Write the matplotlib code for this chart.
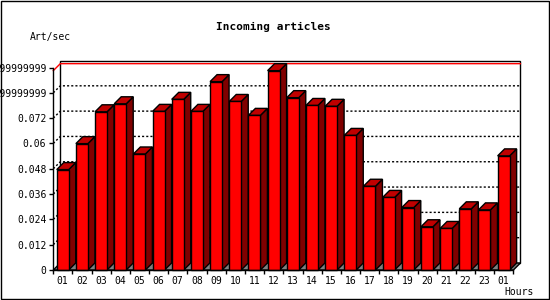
import matplotlib
matplotlib.use("Agg")
import matplotlib.pyplot as plt
from matplotlib.patches import Rectangle, Polygon
from matplotlib.lines import Line2D

plt.rcParams['font.family'] = ['DejaVu Sans Mono']
plt.rcParams['lines.scale_dashes'] = False

# data: articles per second, hourly
hours = ['01', '02', '03', '04', '05', '06', '07', '08', '09', '10', '11', '12',
         '13', '14', '15', '16', '17', '18', '19', '20', '21', '22', '23', '01']
rates = [0.0476, 0.0599, 0.0750, 0.0788, 0.0550, 0.0752, 0.0809, 0.0752,
         0.0893, 0.0799, 0.0733, 0.0945, 0.0817, 0.0780, 0.0776, 0.0638,
         0.0397, 0.0344, 0.0296, 0.0205, 0.0197, 0.0290, 0.0285, 0.0541]
yticks = [0, 0.012, 0.024, 0.036, 0.048, 0.06, 0.072, 0.084, 0.096]
ytick_labels = ['0', '0.012', '0.024', '0.036', '0.048', '0.06', '0.072',
                '0.08399999999', '0.09599999999']

W, H = 550, 300
fig = plt.figure(figsize=(5.5, 3), dpi=100)
ax_left, ax_right, ax_bottom, ax_top = 53.3, 513.4, 270, 67.5
ax = fig.add_axes([ax_left / W, (H - ax_bottom) / H,
                   (ax_right - ax_left) / W, (ax_bottom - ax_top) / H])
n = len(rates)
ymax = 0.096
ax.set_xlim(0, n)
ax.set_ylim(0, ymax)

# depth of the fake 3d, 7 px right and up, in data units
px_x = n / (ax_right - ax_left)
px_y = ymax / (ax_bottom - ax_top)
dx, dy = 7 * px_x, 7 * px_y

# back wall and floor
ax.add_patch(Rectangle((dx, dy), n, ymax, facecolor='white', edgecolor='black',
                       lw=1, clip_on=False, zorder=1))
ax.add_patch(Polygon([(0, 0), (n, 0), (n + dx, dy), (dx, dy)], closed=True,
                     facecolor='#808080', edgecolor='black', lw=1,
                     clip_on=False, zorder=1.5))

# dotted grid on the back wall and left side
for t in yticks[1:-1]:
    ax.add_line(Line2D([0, dx, n + dx], [t, t + dy, t + dy], color='black',
                       lw=1, linestyle=(0, (1.5, 1.5)), clip_on=False, zorder=2))

# max line
vmax = max(rates)
ax.add_line(Line2D([0, dx, n + dx], [vmax, vmax + dy, vmax + dy], color='red',
                   lw=1, clip_on=False, zorder=2))

# bars
off = 3.4 * px_x
bw = 12 * px_x
for i, v in enumerate(rates):
    x0 = i + off
    x1 = x0 + bw
    z = 3 + i * 0.01
    ax.add_patch(Polygon([(x1, 0), (x1 + dx, dy), (x1 + dx, v + dy), (x1, v)],
                         closed=True, facecolor='#800000', edgecolor='black',
                         lw=1, clip_on=False, zorder=z))
    ax.add_patch(Polygon([(x0, v), (x1, v), (x1 + dx, v + dy), (x0 + dx, v + dy)],
                         closed=True, facecolor='#C00000', edgecolor='black',
                         lw=1, clip_on=False, zorder=z))
    ax.add_patch(Rectangle((x0, 0), bw, v, facecolor='#FF0000',
                           edgecolor='black', lw=1, clip_on=False, zorder=z))

for s in ['top', 'right']:
    ax.spines[s].set_visible(False)
for s in ['left', 'bottom']:
    ax.spines[s].set_color('black')
    ax.spines[s].set_linewidth(1)
    ax.spines[s].set_zorder(5)

ax.set_yticks(yticks)
ax.set_yticklabels(ytick_labels, fontsize=7)
ax.set_xticks(range(n + 1))
ax.set_xticklabels([])
ax.set_xticks([i + off + bw / 2 for i in range(n)], minor=True)
ax.set_xticklabels(hours, minor=True, fontsize=7)
ax.tick_params(axis='x', which='major', length=3, width=1, direction='out')
ax.tick_params(axis='x', which='minor', length=0, pad=4)
ax.tick_params(axis='y', length=3, width=1, pad=2)
ax.patch.set_visible(False)

fig.text(273.5 / W, 1 - 26.5 / H, 'Incoming articles', ha='center', va='center',
         fontsize=8, fontweight='bold')
fig.text(30 / W, 1 - 37 / H, 'Art/sec', ha='left', va='center', fontsize=7)
fig.text(534 / W, 1 - 292 / H, 'Hours', ha='right', va='center', fontsize=7)

# frame around the image
fig.add_artist(Rectangle((0.5 / W, 1.5 / H), 548.5 / W, 298 / H, fill=False,
                         edgecolor='black', lw=1, transform=fig.transFigure))

fig.savefig('out.png', dpi=100)
